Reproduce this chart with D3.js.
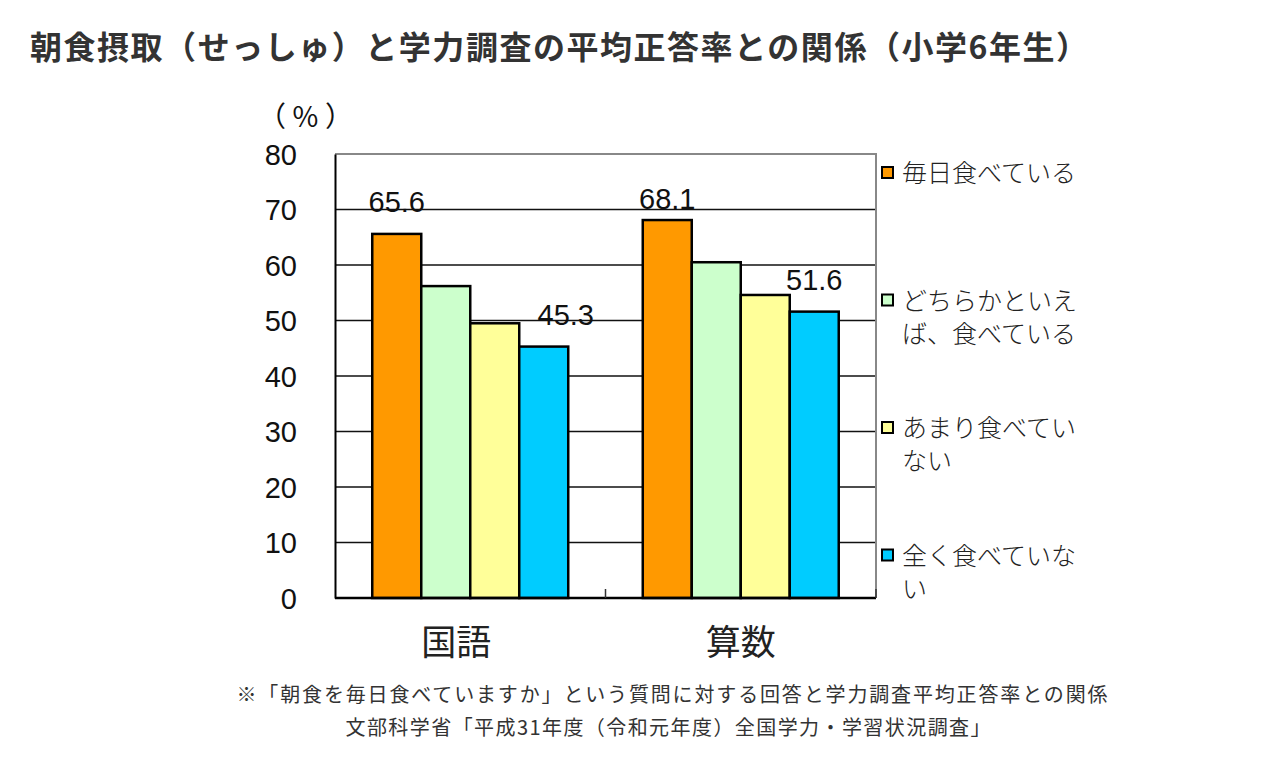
<!DOCTYPE html>
<html>
<head>
<meta charset="utf-8">
<script src="https://cdn.jsdelivr.net/npm/d3@7"></script>
<style>
  body { margin: 0; background: #fff; }
  svg text { font-family: "Noto Sans CJK JP", "Noto Sans", sans-serif; }
  svg text.num { font-family: "Liberation Sans", Arial, sans-serif; }
</style>
</head>
<body>
<div id="chart"></div>
<script>
var subjects = ['国語', '算数'];
var answers = ['毎日食べている', 'どちらかといえば、食べている', 'あまり食べていない', '全く食べていない'];
var legendLines = [['毎日食べている'], ['どちらかといえ', 'ば、食べている'], ['あまり食べてい', 'ない'], ['全く食べていな', 'い']];
var kokugo = [65.6, 56.2, 49.5, 45.3];
var sansu = [68.1, 60.5, 54.6, 51.6];
var yTicks = [0, 10, 20, 30, 40, 50, 60, 70, 80];
var colors = ['#ff9900', '#ccffcc', '#ffff99', '#00ccff'];
var labelled = [0, 3]; // only first and last bar get a number

var svg = d3.select('#chart').append('svg')
    .attr('width', 1280)
    .attr('height', 760);

// title
svg.append('text')
    .attr('x', 30)
    .attr('y', 59)
    .attr('font-size', 32)
    .attr('font-weight', 700)
    .attr('fill', '#333')
    .attr('textLength', 1058)
    .text('朝食摂取（せっしゅ）と学力調査の平均正答率との関係（小学6年生）');

var pLeft = 335, pRight = 876, pTop = 154, pBottom = 598;

var y = d3.scaleLinear().domain([0, 80]).range([pBottom, pTop]);
var x0 = d3.scaleBand().domain(subjects).range([pLeft, pRight])
    .paddingInner(0.2755).paddingOuter(0.2755 / 2);
var x1 = d3.scaleBand().domain(d3.range(answers.length)).range([0, x0.bandwidth()]);

var rows = [kokugo, sansu];

// grid lines
svg.append('g').selectAll('line')
    .data(yTicks.filter(function(t) { return t > 0 && t < 80; }))
    .enter().append('line')
    .attr('x1', pLeft).attr('x2', pRight)
    .attr('y1', function(d) { return y(d); })
    .attr('y2', function(d) { return y(d); })
    .attr('stroke', '#111')
    .attr('stroke-width', 1.5);

// gray frame top + right
svg.append('path')
    .attr('d', 'M' + pLeft + ',' + y(80) + 'H' + pRight + 'V' + pBottom)
    .attr('fill', 'none')
    .attr('stroke', '#888')
    .attr('stroke-width', 2);

// y axis
var yAxis = d3.axisLeft(y).tickValues(yTicks).tickSize(0).tickPadding(38);
var ya = svg.append('g')
    .attr('transform', 'translate(' + pLeft + ',0)')
    .call(yAxis);
ya.select('.domain').attr('stroke', '#000').attr('stroke-width', 2);
ya.selectAll('text')
    .attr('class', 'num')
    .attr('font-size', 29)
    .attr('fill', '#111')
    .attr('dy', '0.36em');

svg.append('text')
    .attr('x', 258)
    .attr('y', 127)
    .attr('font-size', 28)
    .attr('fill', '#111')
    .attr('textLength', 95)
    .text('（%）');

// bars
var groups = svg.append('g').selectAll('g')
    .data(rows)
    .enter().append('g')
    .attr('transform', function(d, i) { return 'translate(' + x0(subjects[i]) + ',0)'; });

groups.selectAll('rect')
    .data(function(d) { return d; })
    .enter().append('rect')
    .attr('x', function(d, i) { return x1(i); })
    .attr('y', function(d) { return y(d); })
    .attr('width', x1.bandwidth())
    .attr('height', function(d) { return y(0) - y(d); })
    .attr('fill', function(d, i) { return colors[i]; })
    .attr('stroke', '#000')
    .attr('stroke-width', 2.5);

groups.selectAll('text')
    .data(function(d) { return labelled.map(function(i) { return { i: i, v: d[i] }; }); })
    .enter().append('text')
    .attr('class', 'num')
    .attr('x', function(d) { return x1(d.i) + x1.bandwidth() / 2 + (d.i === 3 && d.v < 50 ? 22 : 0); })
    .attr('y', function(d) { return y(d.v) - (d.v > 67 ? 11 : 22); })
    .attr('text-anchor', 'middle')
    .attr('font-size', 29)
    .attr('fill', '#111')
    .text(function(d) { return d.v.toFixed(1); });

// x axis line + small ticks
svg.append('line')
    .attr('x1', pLeft).attr('x2', pRight)
    .attr('y1', pBottom).attr('y2', pBottom)
    .attr('stroke', '#000')
    .attr('stroke-width', 2.5);
svg.append('g').selectAll('line')
    .data([x0(subjects[1]) - x0.step() * x0.paddingInner() / 2, pRight])
    .enter().append('line')
    .attr('x1', function(d) { return d; }).attr('x2', function(d) { return d; })
    .attr('y1', pBottom).attr('y2', pBottom - 9)
    .attr('stroke', '#333')
    .attr('stroke-width', 1.5);

svg.append('g').selectAll('text')
    .data(subjects)
    .enter().append('text')
    .attr('x', function(d) { return x0(d) + x0.bandwidth() / 2 - (d === '国語' ? 14 : 0); })
    .attr('y', 655)
    .attr('text-anchor', 'middle')
    .attr('font-size', 35)
    .attr('font-weight', 400)
    .attr('fill', '#222')
    .text(function(d) { return d; });

// legend
var leg = svg.append('g').selectAll('g')
    .data(legendLines)
    .enter().append('g')
    .attr('transform', function(d, i) { return 'translate(881,' + (173 + i * 127.5) + ')'; });

leg.append('rect')
    .attr('x', 1).attr('y', -6)
    .attr('width', 11).attr('height', 11)
    .attr('fill', function(d, i) { return colors[i]; })
    .attr('stroke', '#000')
    .attr('stroke-width', 2);

leg.selectAll('text')
    .data(function(d) { return d; })
    .enter().append('text')
    .attr('x', 21)
    .attr('y', function(d, j) { return j * 33; })
    .attr('dy', '0.36em')
    .attr('font-size', 25)
    .attr('font-weight', 300)
    .attr('fill', '#222')
    .text(function(d) { return d; });

// footnote
var notes = [
  '※「朝食を毎日食べていますか」という質問に対する回答と学力調査平均正答率との関係',
  '文部科学省「平成31年度（令和元年度）全国学力・学習状況調査」'
];
var noteWidth = [871, 645];
svg.append('g').selectAll('text')
    .data(notes)
    .enter().append('text')
    .attr('x', function(d, i) { return i === 0 ? 672 : 668; })
    .attr('y', function(d, i) { return 702 + i * 33; })
    .attr('text-anchor', 'middle')
    .attr('font-size', 20)
    .attr('fill', '#333')
    .attr('textLength', function(d, i) { return noteWidth[i]; })
    .text(function(d) { return d; });
</script>
</body>
</html>
